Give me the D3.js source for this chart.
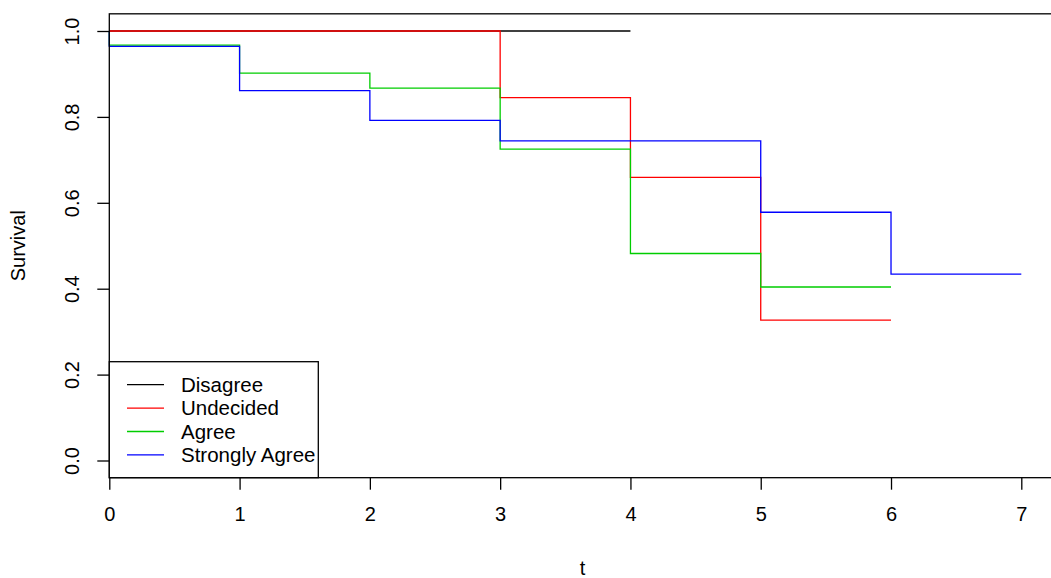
<!DOCTYPE html>
<html>
<head>
<meta charset="utf-8">
<script src="https://cdn.jsdelivr.net/npm/d3@7"></script>
<style>
  html, body { margin: 0; padding: 0; background: #fff; }
  svg { display: block; font-family: "Liberation Sans", Arial, sans-serif; }
</style>
</head>
<body>
<svg id="chart" width="1051" height="578"></svg>
<script>
// survival step curves, one array of times + one of survival per group
var groupNames = ["Disagree", "Undecided", "Agree", "Strongly Agree"];
var disagreeT = [0, 4];
var disagreeS = [1, 1];
var undecidedT = [0, 3, 4, 5, 6];
var undecidedS = [1, 0.845, 0.659, 0.327, 0.327];
var agreeT = [0, 0, 1, 2, 3, 4, 5, 6];
var agreeS = [1, 0.967, 0.902, 0.867, 0.725, 0.482, 0.404, 0.404];
var strongT = [0, 0, 1, 2, 3, 5, 6, 7];
var strongS = [1, 0.964, 0.861, 0.792, 0.744, 0.578, 0.434, 0.434];
var xTicks = [0, 1, 2, 3, 4, 5, 6, 7];
var yTicks = [0, 0.2, 0.4, 0.6, 0.8, 1.0];

var colors = ["#000000", "#ff0000", "#00cd00", "#0000ff"];
var series = [[disagreeT, disagreeS], [undecidedT, undecidedS], [agreeT, agreeS], [strongT, strongS]]
  .map(function (p, i) {
    return { name: groupNames[i], color: colors[i], pts: p[0].map(function (t, j) { return [t, p[1][j]]; }) };
  });

var svg = d3.select("#chart");
var x = d3.scaleLinear().domain([0, 7]).range([109.3, 1021.3]);
var y = d3.scaleLinear().domain([0, 1]).range([460.5, 31]);
// plot region (R pads the range by 4%)
var pL = x(0), pR = x(7.28), pT = y(1.04), pB = y(-0.04);
var fnt = "Liberation Sans, Arial, sans-serif";

// curves
var line = d3.line().x(function (d) { return x(d[0]); }).y(function (d) { return y(d[1]); }).curve(d3.curveStepAfter);
svg.selectAll("path.curve").data(series).enter().append("path")
  .attr("class", "curve")
  .attr("d", function (d) { return line(d.pts); })
  .attr("fill", "none")
  .attr("stroke", function (d) { return d.color; })
  .attr("stroke-width", 1.3);

// box
svg.append("rect").attr("x", pL).attr("y", pT).attr("width", pR - pL).attr("height", pB - pT)
  .attr("fill", "none").attr("stroke", "#000").attr("stroke-width", 1.3);

// x axis
var xa = svg.append("g").attr("transform", "translate(0," + pB + ")")
  .call(d3.axisBottom(x).tickValues(xTicks).tickFormat(d3.format("d")).tickSize(12).tickPadding(17));
xa.select(".domain").remove();
xa.selectAll("line").attr("stroke-width", 1.3);
xa.selectAll("text").attr("font-size", 20).attr("fill", "#000").attr("font-family", fnt);

// y axis, labels turned like R's las=0
var ya = svg.append("g").attr("transform", "translate(" + pL + ",0)")
  .call(d3.axisLeft(y).tickValues(yTicks).tickFormat(d3.format(".1f")).tickSize(12));
ya.select(".domain").remove();
ya.selectAll("line").attr("stroke-width", 1.3);
ya.selectAll("text")
  .attr("font-size", 20).attr("fill", "#000").attr("font-family", fnt)
  .attr("text-anchor", "middle")
  .attr("transform", "translate(-37,0) rotate(-90)").attr("x", 0).attr("y", 0).attr("dy", "0.35em");

// axis titles
svg.append("text").attr("x", (pL + 1056) / 2).attr("y", 575).attr("text-anchor", "middle")
  .attr("font-size", 20).attr("font-family", fnt).text("t");
svg.append("text").attr("transform", "translate(25," + (pT + pB) / 2 + ") rotate(-90)")
  .attr("text-anchor", "middle").attr("font-size", 20).attr("font-family", fnt).text("Survival");

// legend
var lg = svg.append("g");
lg.append("rect").attr("x", pL).attr("y", 361.7).attr("width", 318.3 - pL).attr("height", pB - 361.7)
  .attr("fill", "#fff").attr("stroke", "#000").attr("stroke-width", 1.3);
var items = lg.selectAll("g.item").data(series).enter().append("g").attr("class", "item")
  .attr("transform", function (d, i) { return "translate(0," + (384.7 + i * 23.4) + ")"; });
items.append("line").attr("x1", 127).attr("x2", 164).attr("stroke", function (d) { return d.color; }).attr("stroke-width", 1.3);
items.append("text").attr("x", 181).attr("dy", "0.35em").attr("font-size", 20.5).attr("font-family", fnt)
  .text(function (d) { return d.name; });
</script>
</body>
</html>
